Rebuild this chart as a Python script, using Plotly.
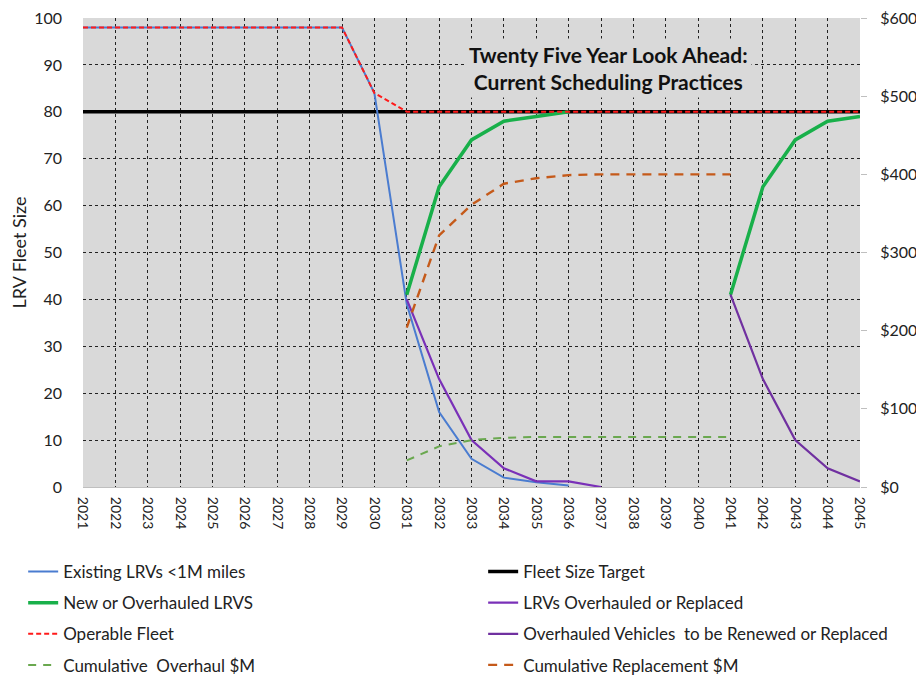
import plotly.graph_objects as go

years = list(range(2021, 2046))
existing = [98, 98, 98, 98, 98, 98, 98, 98, 98, 84, 39, 16, 6, 2, 1, 0.3] + [None] * 9
target = [80] * 25
new_ovh = [None] * 10 + [41, 64, 74, 78, 79, 80] + [None] * 4 + [41, 64, 74, 78, 79]
lrv_ovh = [None] * 10 + [40, 23, 10, 4, 1.2, 1.2, 0] + [None] * 8
ovh_renew = [None] * 20 + [41, 23, 10, 4, 1.2]
operable = [98, 98, 98, 98, 98, 98, 98, 98, 98, 84] + [80] * 15
cum_ovh = [None] * 10 + [34, 52, 60, 63, 64, 64, 64, 64, 64, 64, 64] + [None] * 4
cum_rep = [None] * 10 + [204, 322, 361, 388, 395, 399, 400, 400, 400, 400, 400] + [None] * 4

FONT = "Lato"
fig = go.Figure()

def add(name, y, color, width, dash=None, yaxis="y", legend="legend", rank=1):
    fig.add_trace(go.Scatter(
        x=years, y=y, name=name, mode="lines",
        line=dict(color=color, width=width, dash=dash),
        yaxis=yaxis, legend=legend, legendrank=rank, legendgroup=name,
        connectgaps=False))

add("Fleet Size Target", target, "#000000", 3.5, legend="legend2", rank=1)
add("Existing LRVs <1M miles", existing, "#4A7CD0", 2, legend="legend", rank=1)
add("New or Overhauled LRVS", new_ovh, "#18B04A", 3.5, legend="legend", rank=2)
add("LRVs Overhauled or Replaced", lrv_ovh, "#7A30B8", 2.2, legend="legend2", rank=2)
add("Overhauled Vehicles  to be Renewed or Replaced", ovh_renew, "#7030A0", 2.2, legend="legend2", rank=3)
add("Cumulative  Overhaul $M", cum_ovh, "#6AA84F", 2, dash="8px,7px", yaxis="y2", legend="legend", rank=4)
add("Cumulative Replacement $M", cum_rep, "#C55A1A", 2.4, dash="9px,7px", yaxis="y2", legend="legend2", rank=4)
add("Operable Fleet", operable, "#FF1A1A", 2, dash="5px,3px", legend="legend", rank=3)

legend_common = dict(
    orientation="v", yanchor="top", y=-0.143, xanchor="left",
    font=dict(family=FONT, size=17, color="#222222"),
    bgcolor="rgba(0,0,0,0)", tracegroupgap=6, itemwidth=30,
    traceorder="grouped")

# page has an 8px body margin; figure is sized/margined to compensate
fig.update_layout(
    width=916, height=673,
    margin=dict(l=75, r=64, t=10, b=194, autoexpand=False),
    paper_bgcolor="white", plot_bgcolor="#D9D9D9",
    font=dict(family=FONT, color="#222222"),
    xaxis=dict(
        range=[2021, 2045], dtick=1, tick0=2021, tickangle=90,
        tickfont=dict(family=FONT, size=14, color="#222222"),
        showgrid=True, gridcolor="#222222", griddash="dot", gridwidth=1,
        showline=True, linecolor="#BFBFBF", zeroline=False, ticks="",
        ticklabelstandoff=6, ticklabeloverflow="allow"),
    yaxis=dict(
        range=[0, 100], dtick=10,
        tickfont=dict(family=FONT, size=16, color="#222222"),
        showgrid=True, gridcolor="#222222", griddash="dot", gridwidth=1,
        zeroline=False, ticks="", ticklabelstandoff=20, ticklabeloverflow="allow",
        title=dict(text="LRV Fleet Size", font=dict(family=FONT, size=18, color="#222222"), standoff=2)),
    yaxis2=dict(
        range=[0, 600], dtick=100, tickprefix="$", overlaying="y", side="right",
        tickfont=dict(family=FONT, size=16, color="#222222"),
        showgrid=False, zeroline=False, ticks="outside", ticklen=6, tickcolor="#BFBFBF",
        ticklabelstandoff=10, ticklabeloverflow="allow"),
    legend=dict(x=-0.077, **legend_common),
    legend2=dict(x=0.515, **legend_common),
    annotations=[dict(
        text="<b>Twenty Five Year Look Ahead:<br>Current Scheduling Practices</b>",
        xref="paper", yref="paper", x=0.676, y=0.893, xanchor="center", yanchor="middle",
        showarrow=False, font=dict(family=FONT, size=21, color="#111111"),
        bgcolor="#D9D9D9", align="center", borderpad=3)],
)

fig.write_html("out.html")
